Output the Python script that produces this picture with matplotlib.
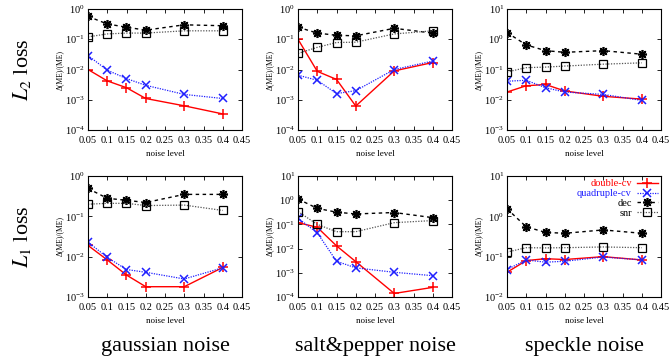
import numpy as np
import matplotlib
matplotlib.use("Agg")
import matplotlib.pyplot as plt
from matplotlib.ticker import LogLocator, LogFormatterSciNotation, MultipleLocator, FormatStrFormatter

plt.rcParams['font.family'] = ['Liberation Serif', 'DejaVu Serif']
plt.rcParams['mathtext.fontset'] = 'stix'

noise = [0.05, 0.1, 0.15, 0.2, 0.3, 0.4]
noise_types = ["gaussian noise", "salt&pepper noise", "speckle noise"]
loss_labels = ["$L_2$ loss", "$L_1$ loss"]
series_names = ["double-cv", "quadruple-cv", "dec", "snr"]

# L2 loss row
l2_gauss_double = [1.0e-2, 4.2e-3, 2.5e-3, 1.1e-3, 6.3e-4, 3.4e-4]
l2_gauss_quad = [2.9e-2, 9.5e-3, 5.0e-3, 3.0e-3, 1.5e-3, 1.1e-3]
l2_gauss_dec = [0.57, 0.32, 0.25, 0.20, 0.30, 0.28]
l2_gauss_snr = [0.12, 0.15, 0.16, 0.16, 0.19, 0.19]

l2_sp_double = [0.10, 8.7e-3, 4.7e-3, 6.2e-4, 9.0e-3, 1.7e-2]
l2_sp_quad = [6.5e-3, 4.4e-3, 1.6e-3, 2.0e-3, 1.0e-2, 1.9e-2]
l2_sp_dec = [0.25, 0.16, 0.135, 0.13, 0.23, 0.16]
l2_sp_snr = [0.034, 0.054, 0.078, 0.080, 0.15, 0.19]

l2_sk_double = [0.018, 0.029, 0.032, 0.0195, 0.013, 0.0105]
l2_sk_quad = [0.041, 0.044, 0.025, 0.018, 0.015, 0.0095]
l2_sk_dec = [1.66, 0.65, 0.42, 0.37, 0.42, 0.32]
l2_sk_snr = [0.083, 0.115, 0.12, 0.13, 0.15, 0.166]

# L1 loss row
l1_gauss_double = [0.019, 8.3e-3, 3.5e-3, 1.8e-3, 1.8e-3, 5.4e-3]
l1_gauss_quad = [0.023, 9.6e-3, 4.8e-3, 4.1e-3, 2.8e-3, 5.3e-3]
l1_gauss_dec = [0.49, 0.28, 0.25, 0.22, 0.35, 0.35]
l1_gauss_snr = [0.20, 0.21, 0.21, 0.185, 0.19, 0.14]

l1_sp_double = [0.118, 0.076, 0.013, 2.9e-3, 1.4e-4, 2.5e-4]
l1_sp_quad = [0.18, 0.045, 3.0e-3, 1.6e-3, 1.05e-3, 7.6e-4]
l1_sp_dec = [1.12, 0.46, 0.32, 0.27, 0.31, 0.19]
l1_sp_snr = [0.34, 0.10, 0.05, 0.05, 0.118, 0.144]

l1_sk_double = [0.041, 0.080, 0.089, 0.085, 0.10, 0.083]
l1_sk_quad = [0.048, 0.083, 0.073, 0.077, 0.098, 0.083]
l1_sk_dec = [1.54, 0.55, 0.40, 0.38, 0.46, 0.38]
l1_sk_snr = [0.13, 0.167, 0.165, 0.167, 0.174, 0.167]

panels = [
    [(l2_gauss_double, l2_gauss_quad, l2_gauss_dec, l2_gauss_snr),
     (l2_sp_double, l2_sp_quad, l2_sp_dec, l2_sp_snr),
     (l2_sk_double, l2_sk_quad, l2_sk_dec, l2_sk_snr)],
    [(l1_gauss_double, l1_gauss_quad, l1_gauss_dec, l1_gauss_snr),
     (l1_sp_double, l1_sp_quad, l1_sp_dec, l1_sp_snr),
     (l1_sk_double, l1_sk_quad, l1_sk_dec, l1_sk_snr)],
]
ylims = [[(1e-4, 1e0), (1e-4, 1e0), (1e-3, 1e1)],
         [(1e-3, 1e0), (1e-4, 1e1), (1e-2, 1e1)]]

styles = [
    dict(color='#ff0000', ls='-', marker='+', ms=6.5, mew=1.1, lw=1.0),
    dict(color='#2020ff', ls=(0, (1, 1)), marker='x', ms=6, mew=1.1, lw=0.9),
    dict(color='black', ls=(0, (2.5, 2.5)), marker=(8, 2, 0), ms=6.5, mew=1.2, lw=1.0),
    dict(color='#555555', ls=(0, (1, 1.2)), marker='s', ms=5.5, mew=0.9, lw=0.9,
         mfc='none', mec='black'),
]
text_colors = ['#ff0000', '#2020ff', 'black', 'black']

W, H = 669, 360
fig = plt.figure(figsize=(W / 100, H / 100), dpi=100)

col_left = [88, 298, 507]
ax_w = 154
row_top = [9, 176]
ax_h = 121

for r in range(2):
    for c in range(3):
        ax = fig.add_axes([col_left[c] / W, 1 - (row_top[r] + ax_h) / H, ax_w / W, ax_h / H])
        data = panels[r][c]
        handles = []
        for s in range(4):
            h, = ax.plot(noise, data[s], label=series_names[s], **styles[s])
            handles.append(h)
        ax.set_yscale('log')
        ax.set_ylim(*ylims[r][c])
        ax.set_xlim(0.05, 0.45)
        ax.xaxis.set_major_locator(MultipleLocator(0.05))
        ax.xaxis.set_major_formatter(FormatStrFormatter('%g'))
        ax.yaxis.set_major_locator(LogLocator(base=10, numticks=10))
        ax.yaxis.set_major_formatter(LogFormatterSciNotation())
        ax.yaxis.set_minor_locator(plt.NullLocator())
        ax.tick_params(which='both', direction='in', top=True, right=True,
                       labelsize=7.5, length=3, width=0.6)
        ax.tick_params(axis='x', pad=4)
        ax.tick_params(axis='y', pad=2)
        for sp in ax.spines.values():
            sp.set_linewidth(0.8)
        ax.set_xlabel('noise level', fontsize=6.5, labelpad=4)
        ax.set_ylabel('Δ(ME)/(ME)', fontsize=5.5, labelpad=1)
        if r == 1 and c == 2:
            leg = ax.legend(handles=handles, loc='upper right', frameon=False,
                            markerfirst=False, fontsize=7.5, handlelength=2.0,
                            handletextpad=0.5, labelspacing=0.05,
                            borderaxespad=0.1, borderpad=0.2)
            for t, col in zip(leg.get_texts(), text_colors):
                t.set_color(col)

for r, lab in enumerate(loss_labels):
    yc = 1 - (row_top[r] + ax_h / 2) / H
    fig.text(22 / W, yc, lab, rotation=90, ha='center', va='center', fontsize=16)

for c, lab in enumerate(noise_types):
    xc = (col_left[c] + ax_w / 2) / W
    fig.text(xc, 1 - 347 / H, lab, ha='center', va='center', fontsize=16)

fig.savefig('out.png', dpi=100)
